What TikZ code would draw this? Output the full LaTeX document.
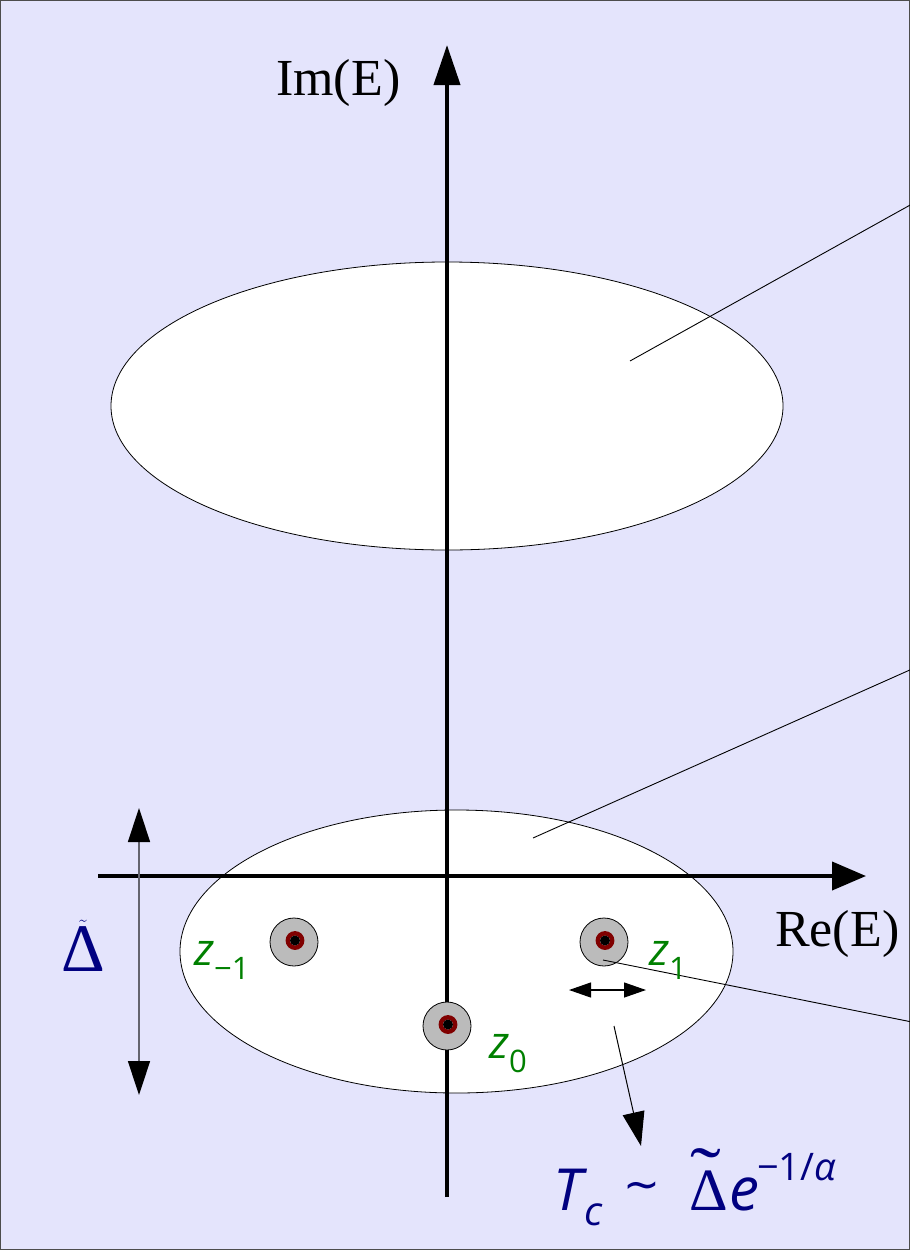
\documentclass[tikz,border=0pt]{standalone}
\usepackage{fontspec}
\setmainfont{Liberation Serif}
\newfontfamily\osans{Open Sans}
\newfontfamily\dvs{DejaVu Sans}
\usetikzlibrary{arrows.meta}
\definecolor{bgc}{RGB}{228,228,252}
\definecolor{zgreen}{RGB}{0,128,0}
\definecolor{navyc}{RGB}{0,0,128}
\definecolor{ringred}{RGB}{128,0,0}
\definecolor{diskgray}{RGB}{187,187,187}
\definecolor{linegray}{RGB}{100,100,110}
\tikzset{
  axisline/.style={line width=4pt, -{Triangle[length=40pt,width=26pt]}},
  region/.style={draw=black, line width=0.8pt, fill=white},
  leader/.style={draw=black, line width=0.9pt},
  disk/.style={circle, draw=black, line width=0.8pt, fill=diskgray, minimum size=48pt, inner sep=0pt},
  zlab/.style={text=zgreen, font=\osans\fontsize{45}{48}\selectfont\itshape, inner sep=0pt, anchor=base west},
  axlab/.style={font=\fontsize{52}{56}\selectfont, inner sep=0pt, anchor=base west},
  fpart/.style={text=navyc, inner sep=0pt, anchor=base west},
}
\newcommand{\zsub}[1]{\raisebox{-14pt}{\fontsize{31}{34}\selectfont\upshape #1}}
\begin{document}
\begin{tikzpicture}[x=1pt,y=-1pt]
\path[use as bounding box] (0,0) rectangle (910,1250);
\fill[bgc, draw=black!70, line width=1pt] (0.5,0.5) rectangle (909.5,1249.5);

% regions
\draw[region] (447,406) ellipse [x radius=336, y radius=144];
\draw[region] (456.5,951.5) ellipse [x radius=276.5, y radius=141.5];

% leader lines
\coordinate (a1) at (630,361); \coordinate (b1) at (912,204);
\coordinate (a2) at (533,838); \coordinate (b2) at (912,669);
\coordinate (a3) at (603,960); \coordinate (b3) at (912,1022);
\draw[leader] (a1) -- (b1);
\draw[leader] (a2) -- (b2);

% axes
\coordinate (ybot) at (447,1197); \coordinate (ytop) at (447,45);
\coordinate (xl) at (98,876); \coordinate (xr) at (866,876);
\draw[axisline] (ybot) -- (ytop);
\draw[line width=4pt, -{Triangle[length=34pt,width=28pt]}] (xl) -- (xr);

\node[axlab] (im) at (276,95) {Im(E)};
\node[axlab] (re) at (775,946) {Re(E)};

% poles
\foreach \n/\x/\y in {zm/294/942, zz/447/1026, zp/604/942}{
  \node[disk] (\n) at (\x,\y) {};
  \draw[ringred, line width=4.4pt] (\x+1,\y-1.5) circle (7.2pt);
  \fill[black] (\x+1,\y-1.5) circle (5pt);
}
\draw[leader] (a3) -- (b3);

\node[zlab] (lzm) at (194,965) {z\zsub{−1}};
\node[zlab] (lzp) at (649,965) {z\zsub{1}};
\node[zlab] (lzz) at (489,1058) {z\zsub{0}};

% Delta arrow
\coordinate (dt) at (139,808); \coordinate (db) at (139,1095);
\draw[linegray, line width=1.5pt, {Triangle[length=34pt,width=22pt,color=black]}-{Triangle[length=34pt,width=22pt,color=black]}] (dt) -- (db);
\node[text=navyc, font=\fontsize{68}{70}\selectfont, inner sep=0pt, anchor=base] (dl) at (83,971) {$\tilde{\hbox{Δ}}$};

% small double arrow
\coordinate (sl) at (569,990); \coordinate (sr) at (646,990);
\draw[line width=1.2pt, {Triangle[length=22pt,width=15pt]}-{Triangle[length=22pt,width=15pt]}] (sl) -- (sr);

% arrow to Tc
\coordinate (ta) at (614,1026); \coordinate (tb) at (641,1146);
\draw[line width=1pt, -{Triangle[length=34pt,width=22pt]}] (ta) -- (tb);

% formula
\node[fpart, font=\osans\itshape\fontsize{58}{60}\selectfont] (fT) at (553,1210) {T};
\node[fpart, font=\osans\itshape\fontsize{40}{42}\selectfont] (fc) at (584,1225) {c};
\node[text=navyc, inner sep=0pt, font=\dvs\fontsize{44}{46}\selectfont] (fsim) at (642,1191) {∼};
\node[fpart, font=\fontsize{60}{62}\selectfont] (fD) at (689,1210) {Δ};
\node[text=navyc, inner sep=0pt, anchor=base, font=\fontsize{66}{68}\selectfont] (ftil) at (706,1197) {\scalebox{1.4}[1.1]{˜}};
\node[fpart, font=\osans\itshape\fontsize{60}{62}\selectfont] (fe) at (729,1210) {e};
\node[fpart, font=\osans\fontsize{38}{40}\selectfont] (fexp) at (757,1180) {−1/\itshape α};
\end{tikzpicture}
\end{document}
